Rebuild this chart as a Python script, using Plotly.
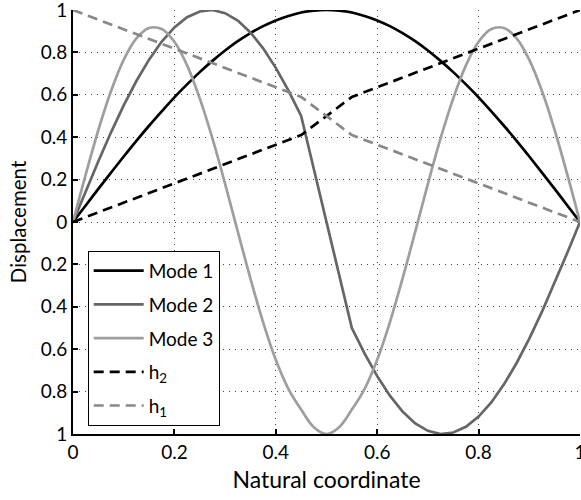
import plotly.graph_objects as go

# x positions where the curves were read
x_vals = [0, 0.025, 0.05, 0.075, 0.1, 0.125, 0.15, 0.175, 0.2, 0.225, 0.25,
          0.275, 0.3, 0.325, 0.35, 0.375, 0.4, 0.425, 0.45, 0.475, 0.5,
          0.525, 0.55, 0.575, 0.6, 0.625, 0.65, 0.675, 0.7, 0.725, 0.75,
          0.775, 0.8, 0.825, 0.85, 0.875, 0.9, 0.925, 0.95, 0.975, 1]

mode1 = [0, 0.078, 0.156, 0.233, 0.309, 0.383, 0.454, 0.522, 0.588, 0.649, 0.707,
         0.760, 0.809, 0.853, 0.891, 0.924, 0.951, 0.972, 0.988, 0.997, 1.0,
         0.997, 0.988, 0.972, 0.951, 0.924, 0.891, 0.853, 0.809, 0.760, 0.707,
         0.649, 0.588, 0.522, 0.454, 0.383, 0.309, 0.233, 0.156, 0.078, 0]

mode2 = [0, 0.145, 0.287, 0.423, 0.550, 0.665, 0.766, 0.851, 0.918, 0.966, 0.993,
         1.0, 0.985, 0.950, 0.894, 0.819, 0.727, 0.620, 0.500, 0.25, 0,
         -0.25, -0.500, -0.620, -0.727, -0.819, -0.894, -0.950, -0.985, -1.0, -0.993,
         -0.966, -0.918, -0.851, -0.766, -0.665, -0.550, -0.423, -0.287, -0.145, 0]

mode3 = [0, 0.223, 0.434, 0.618, 0.765, 0.866, 0.915, 0.910, 0.850, 0.739, 0.583,
         0.394, 0.180, -0.045, -0.267, -0.473, -0.650, -0.788, -0.885, -0.968, -1.0,
         -0.968, -0.885, -0.788, -0.650, -0.473, -0.267, -0.045, 0.180, 0.394, 0.583,
         0.739, 0.850, 0.910, 0.915, 0.866, 0.765, 0.618, 0.434, 0.223, 0]

h_x = [0, 0.45, 0.55, 1]
h2 = [0, 0.41, 0.59, 1]
h1 = [1, 0.59, 0.41, 0]

x_ticks = [0, 0.2, 0.4, 0.6, 0.8, 1]
x_ticktext = ["0", "0.2", "0.4", "0.6", "0.8", "1"]
y_ticks = [-1, -0.8, -0.6, -0.4, -0.2, 0, 0.2, 0.4, 0.6, 0.8, 1]
y_ticktext = ["1", "0.8", "0.6", "0.4", "0.2", "0", "0.2", "0.4", "0.6", "0.8", "1"]

FONT = "Lato"

fig = go.Figure()
fig.add_trace(go.Scatter(x=x_vals, y=mode1, mode="lines", name="Mode 1",
                         line=dict(color="#000000", width=2.7, shape="spline"),
                         legendgroup="a"))
fig.add_trace(go.Scatter(x=x_vals, y=mode2, mode="lines", name="Mode 2",
                         line=dict(color="#666666", width=2.7),
                         legendgroup="b"))
fig.add_trace(go.Scatter(x=x_vals, y=mode3, mode="lines", name="Mode 3",
                         line=dict(color="#9e9e9e", width=2.7, shape="spline"),
                         legendgroup="c"))
fig.add_trace(go.Scatter(x=h_x, y=h2, mode="lines", name="h<sub>2</sub>",
                         line=dict(color="#000000", width=2.7, dash="10px,6px"),
                         legendgroup="d"))
fig.add_trace(go.Scatter(x=h_x, y=h1, mode="lines", name="h<sub>1</sub>",
                         line=dict(color="#888888", width=2.7, dash="10px,6px"),
                         legendgroup="e"))

fig.update_layout(
    width=581, height=500,
    margin=dict(l=73, r=1, t=10, b=66),
    paper_bgcolor="white", plot_bgcolor="white",
    font=dict(family=FONT, size=19, color="#000000"),
    showlegend=True,
    legend=dict(x=0.029, y=0.432, xanchor="left", yanchor="top",
                bgcolor="white", bordercolor="#000000", borderwidth=1,
                font=dict(family=FONT, size=19), tracegroupgap=6,
                itemwidth=50),
)
fig.update_xaxes(
    range=[0, 1], tickvals=x_ticks, ticktext=x_ticktext,
    showline=True, linecolor="#000000", linewidth=2,
    ticks="inside", ticklen=5, tickwidth=1.5, tickcolor="#000000",
    showgrid=True, gridcolor="#444444", gridwidth=1, griddash="1px,5px",
    zeroline=False, ticklabeloverflow="allow", automargin=False,
    title=dict(text="Natural coordinate", font=dict(family=FONT, size=23), standoff=10),
    tickfont=dict(family=FONT, size=19),
)
fig.update_yaxes(
    range=[-1, 1], tickvals=y_ticks, ticktext=y_ticktext,
    showline=True, linecolor="#000000", linewidth=2,
    ticks="inside", ticklen=5, tickwidth=1.5, tickcolor="#000000",
    showgrid=True, gridcolor="#444444", gridwidth=1, griddash="1px,5px",
    zeroline=False, ticklabeloverflow="allow", automargin=False,
    title=dict(text="Displacement", font=dict(family=FONT, size=20.5), standoff=8),
    tickfont=dict(family=FONT, size=19),
)

fig.write_html("out.html")
